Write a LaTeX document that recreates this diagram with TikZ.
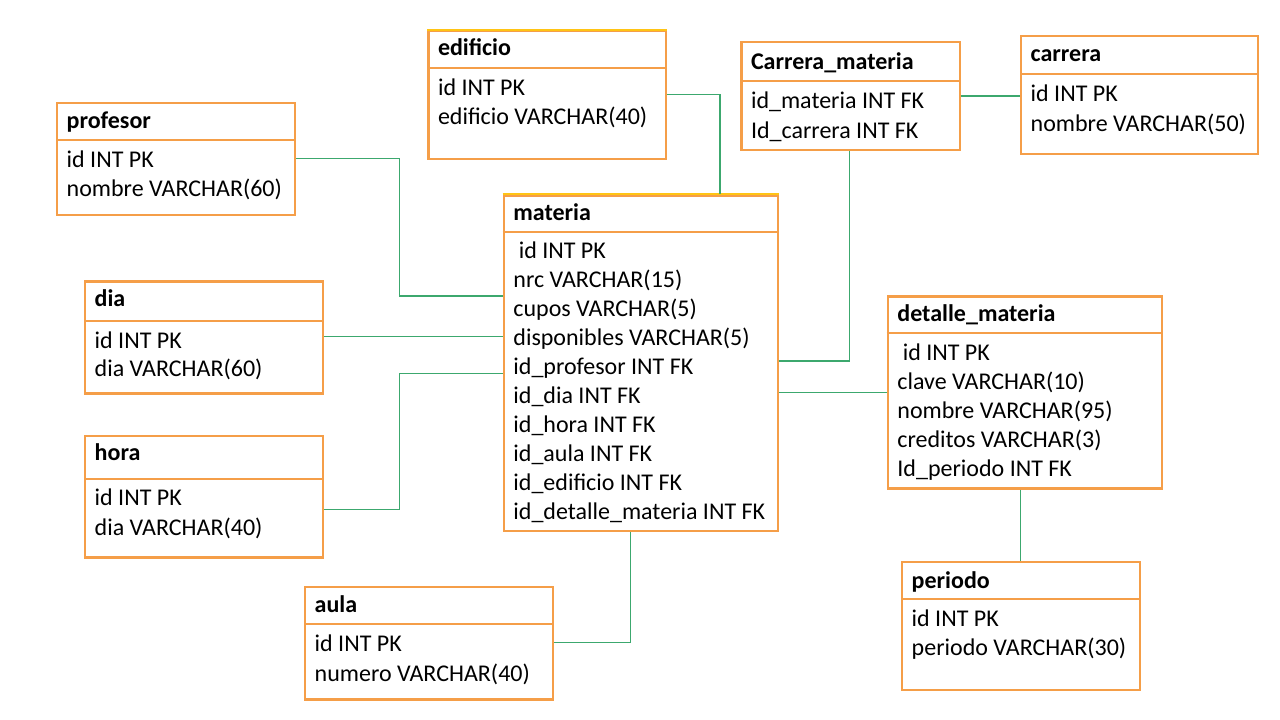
\documentclass[tikz,border=0pt]{standalone}
\usepackage{fontspec}
\setmainfont{Carlito}
\definecolor{boxor}{RGB}{245,158,72}
\definecolor{boxyel}{RGB}{255,196,20}
\definecolor{lnk}{RGB}{60,168,110}
\tikzset{
  tbl/.style={draw=boxor, line width=2.2pt, inner sep=0pt, fill=white, rectangle},
  hdr/.style={draw=boxor, line width=2.2pt},
  topyel/.style={draw=boxyel, line width=2.2pt},
  ttl/.style={font=\fontsize{24}{29}\selectfont\bfseries, inner sep=0pt, anchor=base west},
  rowtxt/.style={font=\fontsize{24}{29}\selectfont, inner sep=0pt, anchor=base west},
  conn/.style={draw=lnk, line width=1.2pt},
}
\newcommand\ertable[9]{% name, xl, yt, xr, yb, yhdr, ytitle, title, ybody1
  \node[tbl, anchor=north west, minimum width={#4pt-#2pt}, minimum height={#5pt-#3pt}] (#1) at (#2,#3) {};
  \draw[hdr] (#2,#6) -- (#4,#6);
  \node[ttl] (#1-t) at ({#2+10.5},#7) {#8};
  \gdef\erx{#2}\gdef\ery{#9}\gdef\ern{#1}%
}
\newcommand\errows[2]{\foreach[count=\i] \r in {#2} {\node[rowtxt] (\ern-\i) at ({\erx+10.5},{\ery+(\i-1)*#1}) {\r};}}
\begin{document}
\begin{tikzpicture}[x=1pt,y=-1pt]
\useasboundingbox[fill=white] (0,0) rectangle (1280,720);

\ertable{profesor}{56}{102}{294}{214}{140}{128}{profesor}{167}
\errows{29.5}{id INT PK, nombre VARCHAR(60)}

\ertable{edificio}{427.3}{29.7}{665}{157.7}{67.7}{55}{edificio}{95}
\errows{29}{id INT PK, edificio VARCHAR(40)}
\draw[topyel] (edificio.north west) -- (edificio.north east);

\ertable{cm}{740.3}{41.2}{958.7}{149}{80.8}{69}{Carrera\_materia}{108.7}
\errows{29.9}{id\_materia INT FK, Id\_carrera INT FK}

\ertable{carrera}{1020}{34.6}{1257}{153}{74.2}{61.8}{carrera}{101.4}
\errows{30}{id INT PK, nombre VARCHAR(50)}

\ertable{materia}{502.7}{194.3}{777}{530}{231.7}{220}{materia}{258.3}
\errows{29}{\hspace*{5.4pt}id INT PK, nrc VARCHAR(15), cupos VARCHAR(5), disponibles VARCHAR(5), id\_profesor INT FK, id\_dia INT FK, id\_hora INT FK, id\_aula INT FK, id\_edificio INT FK, id\_detalle\_materia INT FK}
\draw[topyel] (materia.north west) -- (materia.north east);

\ertable{dia}{84}{280.3}{322}{392.3}{320.7}{306.7}{dia}{348}
\errows{28.7}{id INT PK, dia VARCHAR(60)}

\ertable{detalle}{886.7}{295.3}{1161}{487.3}{333.3}{321.7}{detalle\_materia}{360}
\errows{29}{\hspace*{5.4pt}id INT PK, clave VARCHAR(10), nombre VARCHAR(95), creditos VARCHAR(3), Id\_periodo INT FK}

\ertable{hora}{84}{434.7}{322}{556.3}{479.3}{460.7}{hora}{505.3}
\errows{29.7}{id INT PK, dia VARCHAR(40)}

\ertable{periodo}{901}{561}{1139}{688.7}{599}{588.3}{periodo}{626}
\errows{29}{id INT PK, periodo VARCHAR(30)}

\ertable{aula}{304}{586}{551.7}{698.3}{624.3}{612.7}{aula}{651.7}
\errows{29.3}{id INT PK, numero VARCHAR(40)}

% connectors
\draw[conn] (profesor.east |- 0,158.3) -| (399.5,296) -- (materia.west |- 0,296);
\draw[conn] (dia.east |- 0,336.3) -- (materia.west |- 0,336.3);
\draw[conn] (hora.east |- 0,509.3) -| (399.5,373.3) -- (materia.west |- 0,373.3);
\draw[conn] (edificio.east |- 0,94.3) -| (720,0 |- materia.north);
\draw[conn] (cm.east |- 0,96) -- (carrera.west |- 0,96);
\draw[conn] (cm.south -| 849.7,0) |- (materia.east |- 0,361);
\draw[conn] (detalle.west |- 0,392.5) -- (materia.east |- 0,392.5);
\draw[conn] (detalle.south -| 1020.3,0) -- (periodo.north -| 1020.3,0);
\draw[conn] (materia.south -| 630.3,0) |- (aula.east |- 0,642.3);
\end{tikzpicture}
\end{document}
